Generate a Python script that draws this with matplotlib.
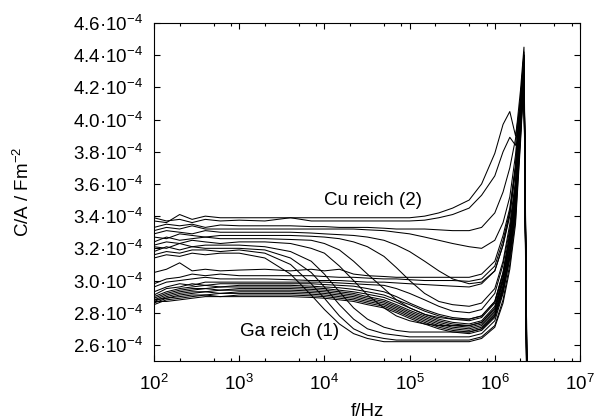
import numpy as np
import matplotlib
matplotlib.use('Agg')
import matplotlib.pyplot as plt
from matplotlib.ticker import FixedLocator, NullFormatter

plt.rcParams['font.family'] = ['Liberation Sans', 'DejaVu Sans']
plt.rcParams['mathtext.fontset'] = 'custom'
plt.rcParams['mathtext.rm'] = 'Liberation Sans'
plt.rcParams['mathtext.it'] = 'Liberation Sans:italic'
plt.rcParams['mathtext.default'] = 'regular'

# frequencies in Hz (shared by all curves)
freq = [100, 140, 200, 280, 400, 600, 1e3, 2e3, 4e3, 7e3, 1e4, 1.5e4, 2.2e4, 3.2e4, 5e4, 7e4,
        1e5, 1.5e5, 2.2e5, 3.2e5, 5e5, 7e5, 1e6, 1.25e6, 1.5e6, 1.75e6, 2e6, 2.2e6, 2.5e6]

# C/A in units of 1e-4 F/m^2
# Cu reich group (upper)
cu_1 = [3.37, 3.36, 3.41, 3.38, 3.40, 3.39, 3.39, 3.39, 3.39, 3.39, 3.39, 3.39, 3.39, 3.39, 3.39, 3.39,
        3.39, 3.40, 3.42, 3.45, 3.50, 3.60, 3.79, 3.97, 4.05, 3.90, 4.10, 4.30, 1.2]
cu_2 = [3.39, 3.37, 3.38, 3.36, 3.38, 3.37, 3.375, 3.37, 3.39, 3.37, 3.37, 3.37, 3.37, 3.37, 3.37, 3.37,
        3.37, 3.375, 3.39, 3.41, 3.45, 3.53, 3.65, 3.80, 3.89, 3.84, 4.12, 4.38, 1.0]
cu_3 = [3.33, 3.35, 3.34, 3.35, 3.33, 3.345, 3.34, 3.34, 3.34, 3.335, 3.335, 3.33, 3.33, 3.33, 3.325, 3.32,
        3.32, 3.32, 3.315, 3.31, 3.31, 3.33, 3.42, 3.55, 3.70, 3.88, 4.18, 4.45, 1.3]
cu_4 = [3.31, 3.33, 3.32, 3.34, 3.32, 3.32, 3.32, 3.32, 3.32, 3.32, 3.32, 3.32, 3.32, 3.315, 3.31, 3.30,
        3.29, 3.27, 3.25, 3.23, 3.21, 3.20, 3.25, 3.36, 3.52, 3.78, 4.12, 4.40, 1.1]
cu_5 = [3.29, 3.31, 3.30, 3.29, 3.31, 3.30, 3.30, 3.30, 3.30, 3.295, 3.29, 3.285, 3.28, 3.27, 3.25, 3.22,
        3.18, 3.12, 3.06, 3.01, 2.98, 2.99, 3.06, 3.22, 3.42, 3.70, 4.12, 4.40, 1.0]
cu_6 = [3.27, 3.26, 3.29, 3.28, 3.27, 3.28, 3.28, 3.28, 3.28, 3.275, 3.27, 3.26, 3.24, 3.21, 3.15, 3.08,
        3.00, 2.92, 2.87, 2.85, 2.84, 2.86, 2.95, 3.12, 3.35, 3.62, 4.08, 4.38, 1.2]
cu_7 = [3.24, 3.27, 3.25, 3.26, 3.27, 3.26, 3.26, 3.26, 3.255, 3.25, 3.23, 3.19, 3.12, 3.04, 2.95, 2.88,
        2.83, 2.79, 2.77, 2.76, 2.76, 2.78, 2.87, 3.05, 3.30, 3.58, 4.05, 4.36, 0.9]
cu_8 = [3.22, 3.24, 3.23, 3.25, 3.24, 3.23, 3.24, 3.24, 3.23, 3.20, 3.17, 3.09, 3.00, 2.91, 2.83, 2.78,
        2.75, 2.73, 2.72, 2.72, 2.72, 2.74, 2.82, 3.00, 3.24, 3.52, 4.00, 4.34, 1.4]
cu_9 = [3.21, 3.20, 3.23, 3.21, 3.22, 3.22, 3.22, 3.21, 3.18, 3.12, 3.04, 2.93, 2.83, 2.76, 2.71, 2.69,
        2.68, 2.68, 2.68, 2.68, 2.68, 2.70, 2.78, 2.95, 3.18, 3.45, 3.95, 4.32, 1.0]
cu_10 = [3.18, 3.21, 3.19, 3.21, 3.20, 3.20, 3.20, 3.19, 3.14, 3.05, 2.96, 2.85, 2.76, 2.70, 2.67, 2.66,
         2.65, 2.65, 2.65, 2.65, 2.65, 2.67, 2.75, 2.92, 3.14, 3.42, 3.92, 4.30, 1.1]
cu_11 = [3.16, 3.18, 3.17, 3.19, 3.19, 3.18, 3.19, 3.17, 3.10, 2.98, 2.89, 2.78, 2.70, 2.66, 2.64, 2.63,
         2.63, 2.63, 2.63, 2.63, 2.63, 2.65, 2.72, 2.88, 3.10, 3.38, 3.88, 4.28, 0.8]
cu_12 = [3.14, 3.16, 3.15, 3.17, 3.16, 3.17, 3.17, 3.14, 3.04, 2.91, 2.82, 2.73, 2.67, 2.64, 2.62, 2.62,
         2.62, 2.62, 2.62, 2.62, 2.62, 2.64, 2.71, 2.86, 3.07, 3.35, 3.85, 4.26, 1.3]

# Ga reich group (lower)
ga_1 = [3.05, 3.07, 3.11, 3.06, 3.07, 3.06, 3.065, 3.07, 3.06, 3.07, 3.06, 3.07, 3.04, 3.03, 3.025, 3.02,
        3.02, 3.02, 3.02, 3.02, 3.02, 3.04, 3.12, 3.28, 3.45, 3.72, 4.12, 4.42, 1.0]
ga_2 = [2.98, 3.01, 3.02, 3.04, 3.03, 3.04, 3.03, 3.03, 3.03, 3.03, 3.025, 3.02, 3.02, 3.015, 3.01, 3.01,
        3.005, 3.00, 3.00, 3.00, 2.995, 3.01, 3.09, 3.25, 3.43, 3.70, 4.10, 4.40, 1.2]
ga_3 = [2.96, 2.99, 3.00, 3.01, 3.02, 3.01, 3.01, 3.01, 3.005, 3.00, 3.00, 3.00, 2.995, 2.99, 2.99, 2.985,
        2.98, 2.975, 2.97, 2.965, 2.96, 2.98, 3.06, 3.22, 3.40, 3.68, 4.10, 4.40, 0.9]
ga_4 = [2.93, 2.96, 2.98, 2.97, 2.99, 2.99, 2.99, 2.99, 2.99, 2.99, 2.99, 2.985, 2.98, 2.975, 2.97, 2.95,
        2.92, 2.88, 2.84, 2.81, 2.80, 2.82, 2.92, 3.10, 3.32, 3.60, 4.06, 4.37, 1.1]
ga_5 = [2.91, 2.95, 2.96, 2.98, 2.97, 2.98, 2.98, 2.98, 2.98, 2.98, 2.975, 2.97, 2.965, 2.95, 2.93, 2.90,
        2.86, 2.82, 2.79, 2.77, 2.76, 2.78, 2.87, 3.05, 3.28, 3.56, 4.04, 4.36, 1.0]
ga_6 = [2.90, 2.93, 2.95, 2.96, 2.97, 2.96, 2.97, 2.97, 2.97, 2.965, 2.96, 2.955, 2.945, 2.93, 2.91, 2.88,
        2.85, 2.81, 2.78, 2.76, 2.75, 2.77, 2.86, 3.04, 3.27, 3.55, 4.03, 4.35, 1.2]
ga_7 = [2.89, 2.92, 2.94, 2.95, 2.95, 2.96, 2.96, 2.96, 2.96, 2.955, 2.95, 2.94, 2.93, 2.915, 2.895, 2.865,
        2.83, 2.79, 2.76, 2.74, 2.73, 2.75, 2.84, 3.02, 3.25, 3.53, 4.02, 4.34, 0.9]
ga_8 = [2.88, 2.91, 2.93, 2.94, 2.95, 2.94, 2.95, 2.95, 2.95, 2.945, 2.94, 2.93, 2.92, 2.90, 2.88, 2.85,
        2.815, 2.78, 2.75, 2.73, 2.72, 2.74, 2.83, 3.01, 3.24, 3.52, 4.00, 4.33, 1.1]
ga_9 = [2.87, 2.90, 2.92, 2.93, 2.93, 2.94, 2.94, 2.94, 2.94, 2.935, 2.93, 2.92, 2.91, 2.89, 2.87, 2.84,
        2.805, 2.77, 2.74, 2.72, 2.71, 2.73, 2.81, 2.99, 3.22, 3.50, 3.98, 4.32, 1.0]
ga_10 = [2.88, 2.89, 2.91, 2.92, 2.93, 2.92, 2.93, 2.93, 2.93, 2.925, 2.92, 2.91, 2.90, 2.88, 2.86, 2.83,
         2.795, 2.76, 2.73, 2.71, 2.70, 2.72, 2.80, 2.97, 3.20, 3.48, 3.96, 4.31, 1.2]
ga_11 = [2.86, 2.89, 2.90, 2.91, 2.91, 2.92, 2.92, 2.92, 2.92, 2.915, 2.91, 2.90, 2.89, 2.87, 2.85, 2.82,
         2.785, 2.75, 2.72, 2.70, 2.69, 2.71, 2.79, 2.96, 3.18, 3.46, 3.94, 4.30, 0.9]
ga_12 = [2.85, 2.88, 2.89, 2.90, 2.91, 2.90, 2.91, 2.91, 2.91, 2.905, 2.90, 2.89, 2.88, 2.86, 2.84, 2.81,
         2.775, 2.74, 2.71, 2.69, 2.68, 2.70, 2.78, 2.94, 3.16, 3.44, 3.92, 4.28, 1.1]
ga_13 = [2.87, 2.87, 2.88, 2.89, 2.90, 2.90, 2.90, 2.90, 2.90, 2.895, 2.89, 2.88, 2.87, 2.85, 2.83, 2.80,
         2.765, 2.73, 2.70, 2.68, 2.67, 2.69, 2.77, 2.93, 3.14, 3.42, 3.90, 4.27, 1.0]

cu_curves = [cu_1, cu_2, cu_3, cu_4, cu_5, cu_6, cu_7, cu_8, cu_9, cu_10, cu_11, cu_12]
ga_curves = [ga_1, ga_2, ga_3, ga_4, ga_5, ga_6, ga_7, ga_8, ga_9, ga_10, ga_11, ga_12, ga_13]

y_ticks = [2.6, 2.8, 3.0, 3.2, 3.4, 3.6, 3.8, 4.0, 4.2, 4.4, 4.6]
y_tick_labels = ['2.6', '2.8', '3.0', '3.2', '3.4', '3.6', '3.8', '4.0', '4.2', '4.4', '4.6']
x_exponents = [2, 3, 4, 5, 6, 7]

fs = 13.5

fig = plt.figure(figsize=(5.97, 4.17), dpi=100)
ax = fig.add_axes([154 / 597, 1 - 361 / 417, 426 / 597, 338 / 417])

for c in cu_curves + ga_curves:
    ax.plot(freq, np.array(c) * 1e-4, color='black', lw=0.75)

ax.set_xscale('log')
ax.set_xlim(1e2, 1e7)
ax.set_ylim(2.5e-4, 4.6e-4)

ax.xaxis.set_major_locator(FixedLocator([10.0 ** e for e in x_exponents]))
ax.set_xticklabels(['10$^{%d}$' % e for e in x_exponents])
minors = [m * 10.0 ** e for e in x_exponents[:-1] for m in (2, 5, 8)]
ax.xaxis.set_minor_locator(FixedLocator(minors))
ax.xaxis.set_minor_formatter(NullFormatter())

ax.set_yticks([v * 1e-4 for v in y_ticks])
ax.set_yticklabels([s + '\u00b710$^{-4}$' for s in y_tick_labels])
ax.yaxis.set_minor_locator(FixedLocator([]))

ax.tick_params(which='both', direction='in', top=True, right=True, labelsize=fs, width=0.8)
ax.tick_params(which='major', length=4.3)
ax.tick_params(which='minor', length=2.2)
ax.tick_params(axis='x', pad=9)
ax.tick_params(axis='y', pad=8)
for s in ax.spines.values():
    s.set_linewidth(0.8)

ax.set_xlabel('f/Hz', fontsize=fs)
ax.xaxis.set_label_coords(0.5, -0.125)
ax.set_ylabel('C/A / Fm$^{-2}$', fontsize=fs)
ax.yaxis.set_label_coords(-0.285, 0.5)

ax.text(1.0e4, 3.47e-4, 'Cu reich (2)', fontsize=fs, ha='left', va='baseline')
ax.text(1.02e3, 2.656e-4, 'Ga reich (1)', fontsize=fs, ha='left', va='baseline')

fig.savefig('out.png', dpi=100)
